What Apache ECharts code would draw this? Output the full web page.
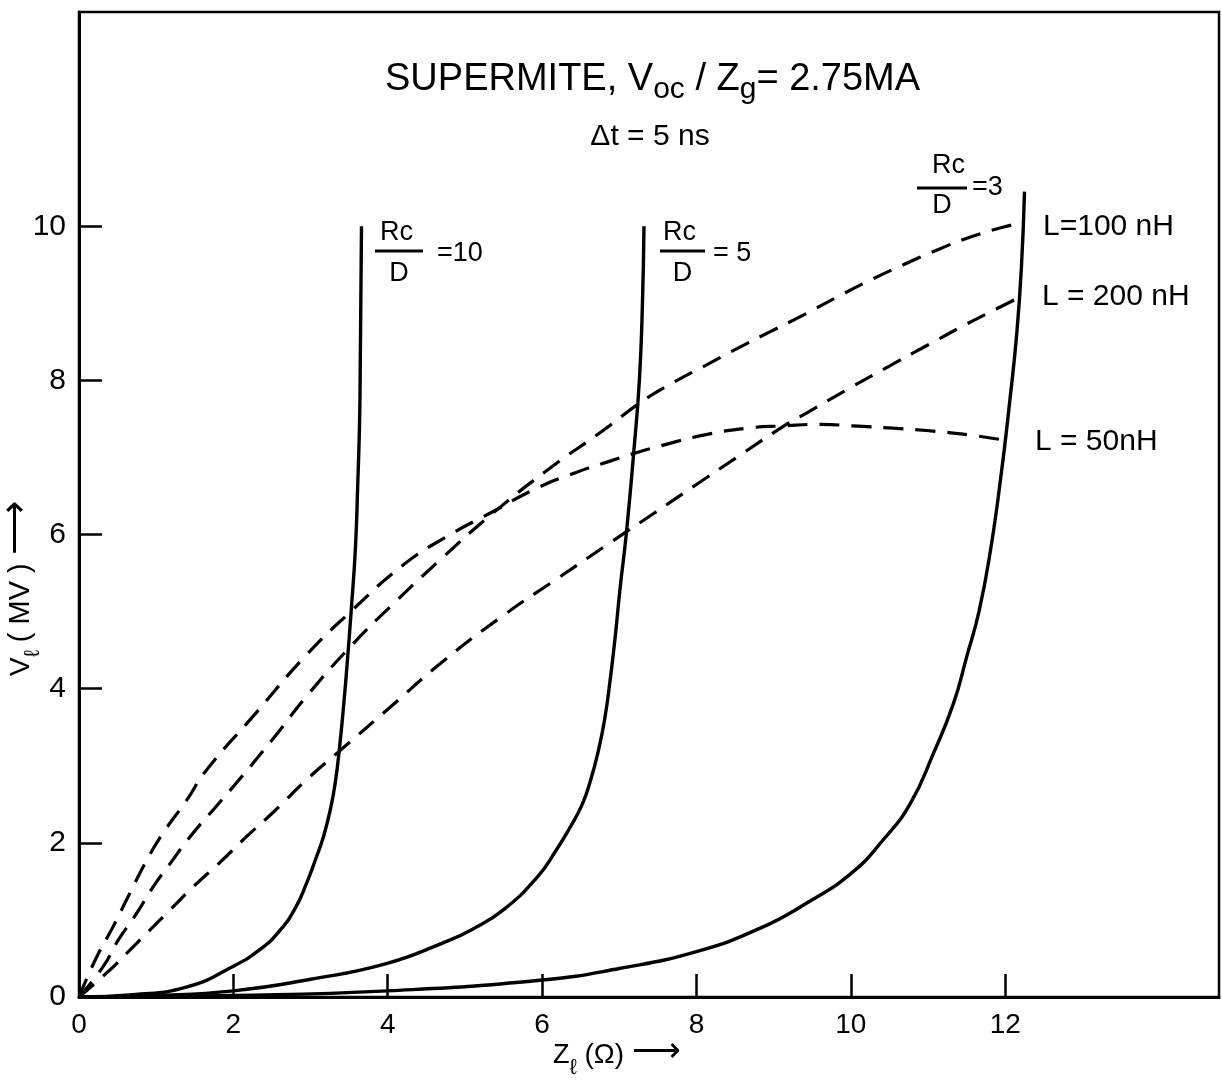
<!DOCTYPE html>
<html>
<head>
<meta charset="utf-8">
<script src="https://cdn.jsdelivr.net/npm/echarts@6/dist/echarts.min.js"></script>
<style>
html,body{margin:0;padding:0;background:#fff;}
#c{width:1222px;height:1081px;}
</style>
</head>
<body>
<div id="c"></div>
<script>
// ---------- data ----------
const xLabelVals = [0, 2, 4, 6, 8, 10, 12];
const xTickVals  = [2, 4, 6, 8, 10, 12];
const yLabelVals = [0, 2, 4, 6, 8, 10];
const yTickVals  = [2, 4, 6, 8, 10];

// solid curves, Rc/D = 10, 5, 3   ([Z_l, V_l])
const rc10 = [[0,0],[0.7,0.03],[1.4,0.13],[2.0,0.4],[2.35,0.62],[2.6,0.86],[2.8,1.15],[2.95,1.48],[3.07,1.8],[3.17,2.09],[3.26,2.45],[3.32,2.78],[3.38,3.28],[3.43,3.8],[3.47,4.27],[3.53,5.06],[3.58,5.8],[3.61,6.6],[3.64,7.74],[3.66,10.0]];
const rc5  = [[0,0],[1.0,0.02],[2.0,0.08],[3.0,0.23],[3.97,0.43],[4.71,0.70],[5.10,0.88],[5.51,1.14],[5.94,1.56],[6.18,1.9],[6.35,2.18],[6.52,2.5],[6.63,2.82],[6.73,3.2],[6.81,3.6],[6.88,4.1],[6.95,4.7],[7.01,5.3],[7.09,6.0],[7.19,7.1],[7.26,8.0],[7.30,9.0],[7.32,10.0]];
const rc3  = [[0,0],[2,0.02],[4.0,0.08],[6.0,0.22],[7.0,0.37],[8.0,0.59],[8.82,0.89],[9.43,1.22],[10.0,1.6],[10.42,2.04],[10.77,2.51],[11.07,3.16],[11.33,3.81],[11.5,4.41],[11.66,5.0],[11.81,5.8],[11.95,6.8],[12.06,7.74],[12.15,8.61],[12.21,9.47],[12.25,10.45]];

// dashed curves, L = 50, 100, 200 nH
const l50  = [[0,0],[0.21,0.48],[0.44,0.91],[0.66,1.35],[0.88,1.78],[1.09,2.13],[1.40,2.56],[1.64,2.93],[2.28,3.67],[2.93,4.42],[3.52,5.0],[4.22,5.62],[4.81,6.0],[5.33,6.28],[5.93,6.6],[6.45,6.81],[6.84,6.94],[7.18,7.05],[7.57,7.16],[8.09,7.29],[8.65,7.38],[9.12,7.41],[9.6,7.43],[10.03,7.41],[10.55,7.38],[10.98,7.35],[11.55,7.29],[12.02,7.22]];
const l100 = [[0,0],[0.31,0.39],[0.51,0.74],[0.75,1.09],[0.96,1.43],[1.18,1.73],[1.44,2.08],[1.74,2.43],[2.0,2.73],[2.53,3.37],[2.93,3.88],[3.52,4.55],[4.07,5.1],[4.71,5.7],[5.33,6.25],[6.1,6.86],[6.79,7.35],[7.27,7.71],[7.66,7.95],[8.09,8.18],[8.52,8.41],[8.95,8.63],[9.39,8.85],[9.82,9.08],[10.25,9.3],[10.68,9.5],[11.11,9.69],[11.55,9.86],[11.98,9.99],[12.24,10.05]];
const l200 = [[0,0],[0.40,0.35],[0.62,0.57],[0.88,0.83],[1.18,1.13],[1.48,1.43],[1.83,1.75],[2.17,2.08],[2.52,2.4],[2.95,2.82],[3.42,3.23],[4.02,3.75],[4.71,4.35],[5.51,4.96],[6.2,5.43],[6.89,5.9],[7.44,6.27],[8.0,6.65],[8.52,7.0],[9.12,7.40],[9.43,7.58],[9.95,7.88],[10.47,8.17],[10.98,8.45],[11.46,8.71],[11.89,8.93],[12.19,9.08]];

// ---------- helpers for text runs ----------
const FF = "'Liberation Sans', Arial, sans-serif";
const mctx = document.createElement('canvas').getContext('2d');
function tw(t, fs) { mctx.font = fs + 'px ' + FF; return mctx.measureText(t).width; }
function piece(t, x, baseline, fs) {
  return { type: 'text', x: x, y: baseline - 0.3465 * fs, silent: true,
    style: { text: t, font: fs + 'px ' + FF, fill: '#000', align: 'left', verticalAlign: 'middle' } };
}
// run: list of [text, fontSize, baselineShift]
function run(x0, baseline, parts) {
  const out = []; let x = x0;
  parts.forEach(p => { out.push(piece(p[0], x, baseline + (p[2] || 0), p[1])); x += tw(p[0], p[1]); });
  return out;
}
function frac(xl, barL, barR, barY, fs, eqText, eqX, eqBase, rcBase, dBase) {
  const els = [];
  els.push(piece('Rc', xl, rcBase, fs));
  els.push({ type: 'line', silent: true, shape: { x1: barL, y1: barY, x2: barR, y2: barY }, style: { stroke: '#000', lineWidth: 3 } });
  const dw = tw('D', fs);
  els.push(piece('D', (barL + barR) / 2 - dw / 2, dBase, fs));
  els.push(piece(eqText, eqX, eqBase, fs));
  return els;
}

const chart = echarts.init(document.getElementById('c'), null, { renderer: 'canvas' });

const solid = { color: '#000', width: 3.4 };
const dashed = { color: '#000', width: 3.2, type: [20, 12] };
function ser(name, data, ls) {
  return { name: name, type: 'line', data: data, showSymbol: false, symbol: 'none',
    smooth: 0.5, lineStyle: ls, silent: true, z: 3 };
}

const graphics = [].concat(
  run(385, 93, [['SUPERMITE, V', 38], ['oc', 30, 7], [' / Z', 38], ['g', 30, 7], ['= 2.75MA', 38]]),
  [ { type: 'text', x: 650, y: 147 - 0.3465 * 30, silent: true,
      style: { text: '\u0394t = 5 ns', font: '30px ' + FF, fill: '#000', align: 'center', verticalAlign: 'middle' } } ],
  frac(380, 375, 423, 251, 27, '=10', 437, 263, 242, 283),
  frac(663, 660, 705, 251, 27, '= 5', 713, 263, 242, 283),
  frac(932, 917, 967, 188, 27, '=3', 972, 197, 175, 215),
  [ piece('L=100 nH', 1043, 237, 30),
    piece('L = 200 nH', 1042, 307, 30),
    piece('L = 50nH', 1035, 452, 30) ],
  run(553, 1065, [['Z', 27], ['\u2113', 22, 11], [' (\u03a9) ', 28], ['\u27f6', 34, -2]]),
  [ { type: 'group', x: 0, y: 676, rotation: Math.PI / 2, silent: true,
      children: run(0, 31, [['V', 28], ['\u2113', 22, 10], [' ( MV ) ', 29], ['\u27f6', 38, -2]]) } ]
);

const option = {
  animation: false,
  backgroundColor: '#fff',
  grid: { left: 79, right: 3, top: 12, bottom: 84, show: true, borderColor: '#000', borderWidth: 2.5, backgroundColor: 'transparent' },
  xAxis: {
    type: 'value', min: 0, max: 14.77, interval: 2,
    axisLine: { show: true, onZero: false, lineStyle: { color: '#000', width: 3 } },
    axisTick: { show: true, inside: true, length: 23, lineStyle: { color: '#000', width: 2.5 }, customValues: xTickVals },
    axisLabel: { color: '#000', fontSize: 28, fontFamily: FF, margin: 14, customValues: xLabelVals },
    splitLine: { show: false }
  },
  yAxis: {
    type: 'value', min: 0, max: 12.78, interval: 2,
    axisLine: { show: true, onZero: false, lineStyle: { color: '#000', width: 3 } },
    axisTick: { show: true, inside: true, length: 23, lineStyle: { color: '#000', width: 2.5 }, customValues: yTickVals },
    axisLabel: { color: '#000', fontSize: 30, fontFamily: FF, margin: 13, customValues: yLabelVals },
    splitLine: { show: false }
  },
  series: [
    ser('Rc/D=10', rc10, solid),
    ser('Rc/D=5', rc5, solid),
    ser('Rc/D=3', rc3, solid),
    ser('L=50nH', l50, dashed),
    ser('L=100nH', l100, dashed),
    ser('L=200nH', l200, dashed)
  ],
  graphic: { elements: graphics }
};
chart.setOption(option);
</script>
</body>
</html>
